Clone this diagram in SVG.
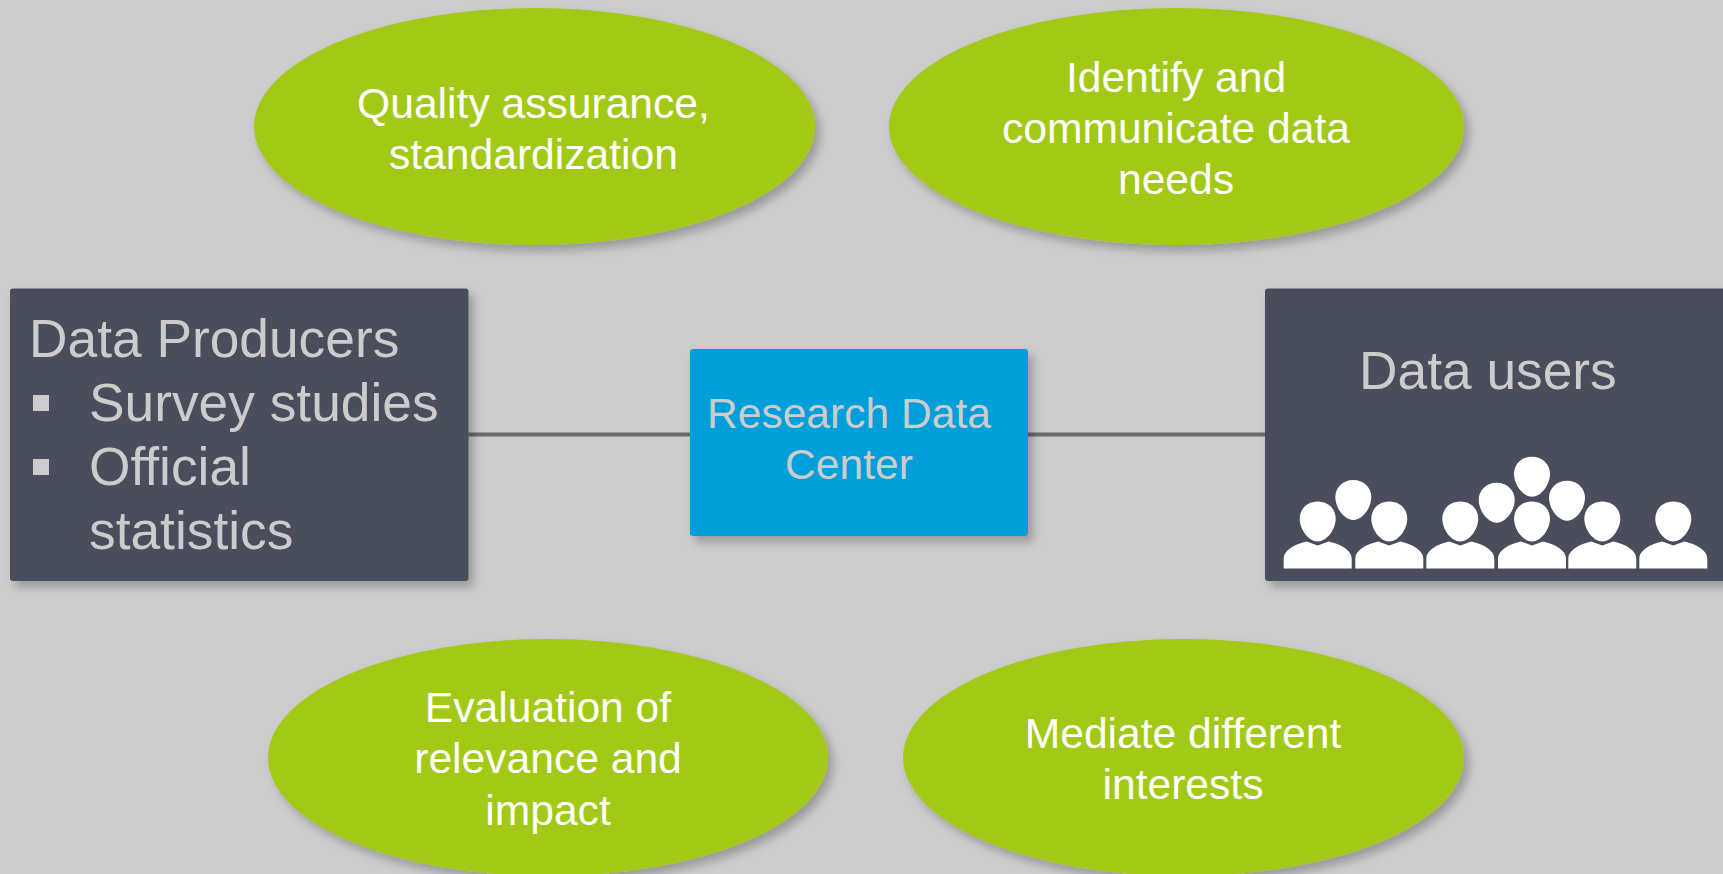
<svg xmlns="http://www.w3.org/2000/svg" width="1723" height="874" viewBox="0 0 1723 874">
<style>
text{font-family:"Liberation Sans",Arial,sans-serif}
.o{fill:#a2c915;filter:url(#s)}
.ot{fill:#fff;font-size:42.6px;text-anchor:middle}
.b{fill:#4a4e5c;filter:url(#s)}
.bt{fill:#ccc;font-size:53.3px}
.ct{fill:#ccc;font-size:42.6px;text-anchor:middle}
.c{stroke:#6b6b6b;stroke-width:4;fill:none}
.p{fill:#fff}
</style>
<defs>
<filter id="s" x="-10%" y="-10%" width="125%" height="125%"><feDropShadow dx="5" dy="6" stdDeviation="5" flood-color="#000" flood-opacity="0.25"/></filter>
<path id="h" d="M0,-20C11,-20 18,-12 18,-3C18,8 9,20 0,20C-9,20 -18,8 -18,-3C-18,-12 -11,-20 0,-20Z"/>
<path id="u" d="M0,-20C11,-20 18,-12 18,-3C18,8 9,20 0,20C-9,20 -18,8 -18,-3C-18,-12 -11,-20 0,-20ZM-34,47V37C-34,29 -24,23 -11,20L0,24L11,20C24,23 34,29 34,37V47Z"/>
</defs>
<rect width="1723" height="874" fill="#ccc"/>
<g id="connectors"><path class="c" d="M468,434.500H690M1028,434.500H1265"/></g>
<g id="n-quality"><ellipse class="o" cx="534.500" cy="126.500" rx="280.500" ry="118.500"/><text class="ot" x="533.500" y="118">Quality assurance,</text><text class="ot" x="533.500" y="169">standardization</text></g>
<g id="n-identify"><ellipse class="o" cx="1176.500" cy="126.500" rx="287.500" ry="118.500"/><text class="ot" x="1176" y="92">Identify and</text><text class="ot" x="1176" y="143">communicate data</text><text class="ot" x="1176" y="194">needs</text></g>
<g id="n-evaluation"><ellipse class="o" cx="548" cy="757.500" rx="280" ry="118.500"/><text class="ot" x="548" y="722">Evaluation of</text><text class="ot" x="548" y="773">relevance and</text><text class="ot" x="548" y="825">impact</text></g>
<g id="n-mediate"><ellipse class="o" cx="1183.500" cy="757.500" rx="280.500" ry="118.500"/><text class="ot" x="1183" y="748">Mediate different</text><text class="ot" x="1183" y="799">interests</text></g>
<g id="n-producers"><rect class="b" x="10" y="288.500" width="458.500" height="292.500" rx="3"/><text class="bt" x="29" y="357">Data Producers</text><rect x="33" y="395" width="16" height="16" fill="#ccc"/><text class="bt" x="89" y="421">Survey studies</text><rect x="33" y="459" width="16" height="16" fill="#ccc"/><text class="bt" x="89" y="485">Official</text><text class="bt" x="89" y="549">statistics</text></g>
<g id="n-center"><rect x="690" y="349" width="338" height="187" rx="3" fill="#009fd9" filter="url(#s)"/><text class="ct" x="849" y="428">Research Data</text><text class="ct" x="849" y="478.500">Center</text></g>
<g id="n-users"><rect class="b" x="1265" y="288.500" width="470" height="292.500" rx="3"/><text class="bt" x="1359" y="389">Data users</text>
<g class="p"><use href="#h" x="1353.300" y="500"/><use href="#h" x="1496.700" y="502.700"/><use href="#h" x="1532" y="476.700"/><use href="#h" x="1567" y="500.700"/><use href="#u" x="1317.700" y="521.500"/><use href="#u" x="1389.300" y="521.500"/><use href="#u" x="1460.300" y="521.500"/><use href="#u" x="1532" y="521.500"/><use href="#u" x="1602.300" y="521.500"/><use href="#u" x="1673.300" y="521.500"/></g></g>
</svg>
